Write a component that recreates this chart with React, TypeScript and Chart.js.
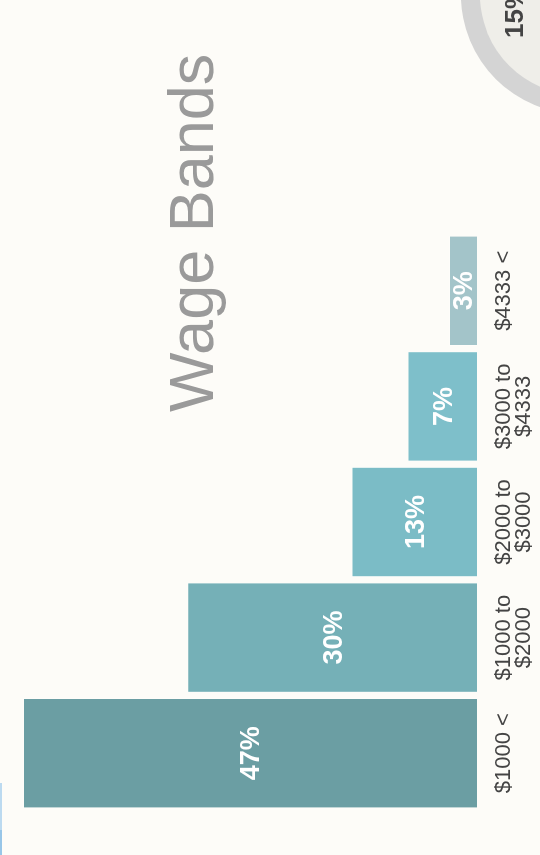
import React, { useEffect, useRef } from "react";
import { Chart, registerables } from "chart.js";

Chart.register(...registerables);

const categories: string[][] = [
  ["$1000 <"],
  ["$1000 to", "$2000"],
  ["$2000 to", "$3000"],
  ["$3000 to", "$4333"],
  ["$4333 <"],
];
const shares: number[] = [47, 30, 13, 7.2, 2.9];
const barColors: string[] = ["#6b9ea3", "#75b0b7", "#7bbcc6", "#7ebfca", "#a3c4c9"];
const titleText = "Wage Bands";
const sideValue = "15%";

const W = 855;
const H = 540;

const decorPlugin = {
  id: "decor",
  beforeDraw(chart: any) {
    const ctx = chart.ctx;
    ctx.save();
    ctx.fillStyle = "#fdfcf8";
    ctx.fillRect(0, 0, chart.width, chart.height);
    // thin blue edge
    ctx.fillStyle = "#bcdaf0";
    ctx.fillRect(0, 0, 72, 2);
    ctx.fillStyle = "#98c6e8";
    ctx.fillRect(0, 0, 25, 2);
    // partial circle
    ctx.beginPath();
    ctx.arc(860, 580, 119, 0, Math.PI * 2);
    ctx.fillStyle = "#d4d4d4";
    ctx.fill();
    ctx.beginPath();
    ctx.arc(860, 580, 100, 0, Math.PI * 2);
    ctx.fillStyle = "#efeee9";
    ctx.fill();
    ctx.fillStyle = "#444444";
    ctx.font = 'bold 26px "Liberation Sans", Arial, sans-serif';
    ctx.textAlign = "left";
    ctx.textBaseline = "alphabetic";
    ctx.fillText(sideValue, 817, 523);
    // title
    ctx.fillStyle = "#9a9a9a";
    ctx.font = '63px "Liberation Sans", Arial, sans-serif';
    ctx.fillText(titleText, 443, 213);
    ctx.restore();
  },
  afterDatasetsDraw(chart: any) {
    const ctx = chart.ctx;
    const meta = chart.getDatasetMeta(0);
    ctx.save();
    ctx.fillStyle = "#ffffff";
    ctx.font = 'bold 27px "Liberation Sans", Arial, sans-serif';
    ctx.textAlign = "center";
    ctx.textBaseline = "middle";
    meta.data.forEach((bar: any, i: number) => {
      const v = shares[i];
      const y = (bar.y + bar.base) / 2;
      ctx.fillText(`${Math.round(v)}%`, bar.x, y + 2);
    });
    ctx.restore();
  },
};

export default function App() {
  const ref = useRef<HTMLCanvasElement>(null);
  useEffect(() => {
    if (!ref.current) return;
    const chart = new Chart(ref.current, {
      type: "bar",
      data: {
        labels: categories,
        datasets: [
          {
            data: shares,
            backgroundColor: barColors,
            borderColor: "rgba(255,255,255,0.35)",
            borderWidth: 1,
            categoryPercentage: 1,
            barPercentage: 0.955,
          },
        ],
      },
      options: {
        animation: false,
        responsive: false,
        devicePixelRatio: 1,
        layout: { padding: { left: 44, right: 233, top: 23, bottom: 0 } },
        plugins: { legend: { display: false }, tooltip: { enabled: false }, title: { display: false } },
        scales: {
          x: {
            grid: { display: false, drawTicks: false },
            border: { display: false },
            ticks: {
              color: "#444444",
              padding: 16,
              maxRotation: 0,
              minRotation: 0,
              autoSkip: false,
              font: { family: '"Liberation Sans", Arial, sans-serif', size: 22, lineHeight: 0.95 },
            },
            afterFit: (scale: any) => {
              scale.height = 63;
            },
          },
          y: { display: false, min: 0, max: 47 },
        },
      },
      plugins: [decorPlugin],
    });
    return () => chart.destroy();
  }, []);

  return (
    <div
      style={{
        position: "fixed",
        left: 0,
        top: 0,
        width: 540,
        height: 855,
        overflow: "hidden",
        background: "#fdfcf8",
      }}
    >
      <div
        style={{
          position: "absolute",
          left: 0,
          top: 0,
          width: W,
          height: H,
          transformOrigin: "0 0",
          transform: `translateY(${W}px) rotate(-90deg)`,
        }}
      >
        <canvas ref={ref} width={W} height={H} style={{ display: "block", width: W, height: H }} />
      </div>
    </div>
  );
}
